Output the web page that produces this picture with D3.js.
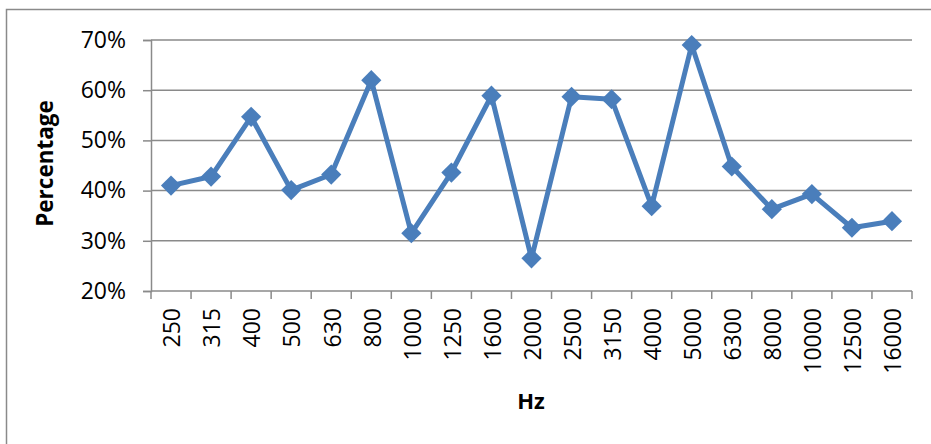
<!DOCTYPE html>
<html>
<head>
<meta charset="utf-8">
<script src="https://cdn.jsdelivr.net/npm/d3@7"></script>
<style>
  html, body { margin: 0; padding: 0; background: #fff; }
  svg { display: block; }
  text { font-family: "Open Sans", "Liberation Sans", sans-serif; fill: #000; }
</style>
</head>
<body>
<svg id="chart" width="931" height="444"></svg>
<script>
const categories = ["250","315","400","500","630","800","1000","1250","1600","2000","2500","3150","4000","5000","6300","8000","10000","12500","16000"];
const values = [41.0, 42.8, 54.7, 40.1, 43.2, 62.0, 31.5, 43.6, 58.9, 26.5, 58.7, 58.2, 36.9, 69.0, 44.8, 36.3, 39.3, 32.6, 33.9];
const yTicks = [20, 30, 40, 50, 60, 70];
const yTitle = "Percentage";
const xTitle = "Hz";

const svg = d3.select("#chart");
const plot = { left: 151, right: 912, top: 40, bottom: 291 };

// outer frame
svg.append("rect")
  .attr("x", 6.5).attr("y", 9.5)
  .attr("width", 940).attr("height", 450)
  .attr("fill", "none").attr("stroke", "#8a8a8a").attr("stroke-width", 1.5);

const x = d3.scaleBand().domain(categories).range([plot.left, plot.right]).padding(0);
const y = d3.scaleLinear().domain([20, 70]).range([plot.bottom, plot.top]);

// gridlines
svg.append("g").selectAll("line").data(yTicks.filter(d => d !== 20)).join("line")
  .attr("x1", plot.left).attr("x2", plot.right)
  .attr("y1", d => y(d)).attr("y2", d => y(d))
  .attr("stroke", "#8a8a8a").attr("stroke-width", 1.5);

// y axis
const yAxis = d3.axisLeft(y).tickValues(yTicks).tickSize(8).tickPadding(17)
  .tickFormat(d => d + "%");
const gy = svg.append("g").attr("transform", `translate(${plot.left},0)`).call(yAxis);
gy.select(".domain").attr("stroke", "#8a8a8a").attr("stroke-width", 1.5);
gy.selectAll(".tick line").attr("stroke", "#8a8a8a").attr("stroke-width", 1.5);
gy.selectAll(".tick text").attr("font-size", 23).attr("font-family", "Open Sans");

// x axis: ticks at band boundaries
const boundaries = categories.map(c => x(c)).concat([plot.right]);
svg.append("line")
  .attr("x1", plot.left).attr("x2", plot.right)
  .attr("y1", plot.bottom).attr("y2", plot.bottom)
  .attr("stroke", "#8a8a8a").attr("stroke-width", 1.5);
svg.append("g").selectAll("line").data(boundaries).join("line")
  .attr("x1", d => d).attr("x2", d => d)
  .attr("y1", plot.bottom).attr("y2", plot.bottom + 8)
  .attr("stroke", "#8a8a8a").attr("stroke-width", 1.5);

svg.append("g").selectAll("text").data(categories).join("text")
  .attr("transform", d => `translate(${x(d) + x.bandwidth() / 2 + 1},308) rotate(-90)`)
  .attr("text-anchor", "end")
  .attr("dy", "0.36em")
  .attr("font-size", 23)
  .text(d => d);

// line
const line = d3.line()
  .x((d, i) => x(categories[i]) + x.bandwidth() / 2)
  .y(d => y(d));
svg.append("path").datum(values)
  .attr("d", line)
  .attr("fill", "none")
  .attr("stroke", "#4a7ebb")
  .attr("stroke-width", 5)
  .attr("stroke-linejoin", "round");

// diamond markers
const diamond = d3.symbol().type(d3.symbolDiamond2).size(260);
svg.append("g").selectAll("path").data(values).join("path")
  .attr("transform", (d, i) => `translate(${x(categories[i]) + x.bandwidth() / 2},${y(d)})`)
  .attr("d", diamond)
  .attr("fill", "#4a7ebb");

// axis titles
svg.append("text")
  .attr("transform", `translate(45,${(plot.top + plot.bottom) / 2 - 2}) rotate(-90)`)
  .attr("text-anchor", "middle")
  .attr("dy", "0.36em")
  .attr("font-size", 22.5)
  .attr("font-weight", "bold")
  .text(yTitle);

svg.append("text")
  .attr("x", 531).attr("y", 401)
  .attr("text-anchor", "middle")
  .attr("dy", "0.36em")
  .attr("font-size", 22)
  .attr("font-weight", "bold")
  .text(xTitle);
</script>
</body>
</html>
